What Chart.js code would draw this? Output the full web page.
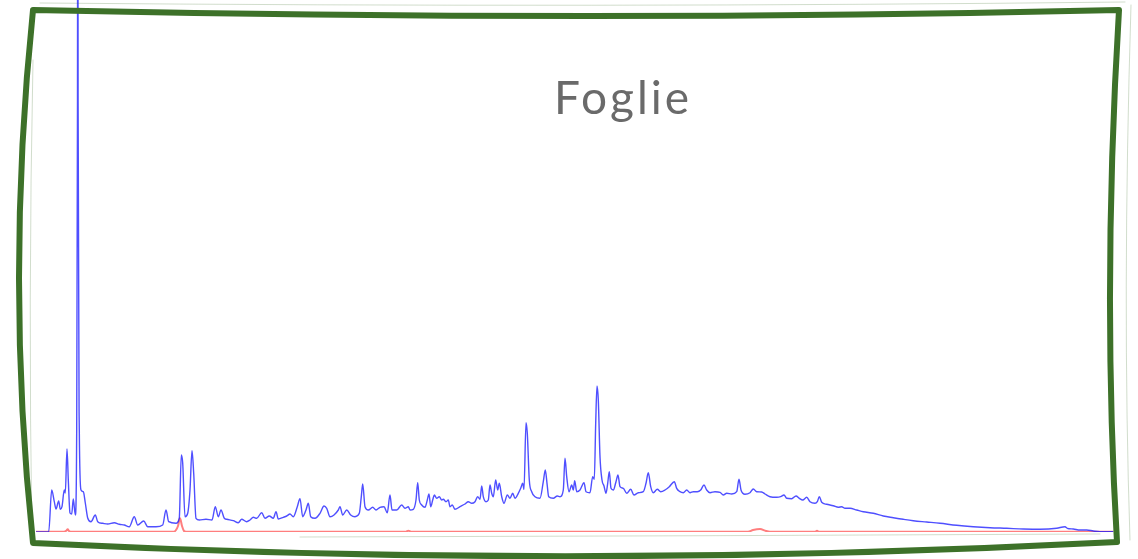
<!DOCTYPE html>
<html>
<head>
<meta charset="utf-8">
<script src="https://cdn.jsdelivr.net/npm/chart.js@4/dist/chart.umd.min.js"></script>
<style>
  html, body { margin: 0; padding: 0; background: #ffffff; }
  #wrap { position: relative; width: 1138px; height: 559px; }
  #titolo {
    position: absolute; left: 554px; top: 74px;
    font-family: Lato, "Open Sans", sans-serif; font-size: 46px; line-height: 46px;
    letter-spacing: 3px; color: #6a6a6a; white-space: nowrap;
  }
</style>
</head>
<body>
<div id="wrap">
  <canvas id="chart" width="1138" height="559"></canvas>
  <div id="titolo">Foglie</div>
</div>
<script>
// --- Data (retention position, arbitrary units / detector response) ---
const bluTempo = [
  0, 12.7, 15.7, 18.3, 20, 22.7, 24.3, 26, 28.3, 29.3, 31, 32.3, 34, 35.7, 37.3, 39.3,
  40.7, 41.5, 41.8, 42.1, 43.3, 45, 47.3, 49.3, 51.7, 55, 59.3, 61.7, 66.7, 71.7, 78.3,
  83.3, 88.3, 93.3, 98.3, 101.7, 107.7, 111.7, 120, 126.7, 130, 132.7, 140, 143.3, 145.3,
  146.7, 149, 151.7, 154, 156, 157.7, 160, 163.3, 170, 176, 179.3, 182.3, 185, 188.3,
  190.7, 197.3, 202.3, 205.7, 210.7, 214, 217.3, 220.7, 225.7, 229, 233.3, 237.3, 240,
  242.3, 247.3, 250.7, 254, 257.3, 261.3, 264, 266.7, 270, 272.3, 274.7, 279, 284, 288,
  290.7, 294, 298, 302.3, 304, 306.7, 310.7, 314.7, 319, 323.3, 325.3, 326.7, 329, 332.3,
  336.7, 340, 344, 348, 351.3, 354, 356, 360.7, 365.7, 369, 372.3,
  374, 377.3, 380, 381.7, 383.3, 385.7, 389, 391.3, 393, 394.7, 396.7, 398.3, 400.7,
  403.3, 405.7, 407.3, 410, 412.3, 414, 416.3, 419, 424, 429, 432.3, 435.7, 439, 441.7,
  444, 445.7, 447.3, 450, 452.3, 454, 455.7, 457.3, 459.7, 461.7, 463.3, 465.7, 468,
  471.3, 474, 476.7, 479, 482.3, 484.7, 486.7, 488, 490, 491.3, 493.3, 495.7, 499, 504,
  507.3, 509.3, 511, 512.7, 517.3, 521.3, 524, 527.3, 529, 530.7, 533, 535.7, 537.3,
  538.7, 540.7, 544, 548, 550, 554,
  556.7, 558.3, 559.7, 561, 562.3, 564, 566, 568, 570, 571.7, 573.3, 575, 577.3, 580,
  582, 584, 587.3, 590.7, 594.7, 598, 602.3, 607.3, 610, 612.3, 614.7, 617.3, 621.3,
  624.7, 629, 633.3, 638.3, 640.7, 644, 647.3, 650.7, 654, 657.3, 661.3, 664.7, 668,
  670.7, 674, 679, 684, 687.3, 690.7, 695.7, 700.7, 703, 705, 709, 714, 717.3, 720.7,
  725.7, 729,
  734, 740.7, 744.7, 748, 750.7, 755.7, 760, 763.3, 766.7, 770.7, 774, 779, 781.3, 783.3,
  785.7, 790.7, 797.3, 802.3, 805.7, 809, 814, 820.7, 827.3, 837.3, 847.3, 857.3, 867.3,
  877.3, 890.7, 904, 920.7, 937.3, 954, 970.7, 987.3, 1004, 1020.7, 1029, 1031.3, 1037.3,
  1044, 1050.7, 1057.3, 1064, 1077.3
];
const bluValori = [
  0, 0, 42, 30.3, 23, 31, 22.7, 25.3, 42, 39, 83, 52, 19, 18, 33, 17,
  102, 432, 832, 432, 102, 42, 40.3, 29, 14, 10.3, 17, 10.3, 8.7, 8, 9.3,
  7.7, 7, 5.3, 15.3, 7, 11, 5.3, 5.3, 7, 22, 10.3, 8.7, 14, 77,
  69, 15.3, 18.7, 42, 81.3, 58.7, 13.7, 12, 12.7, 12, 25.3, 15.3, 22, 13.7,
  12.7, 11.3, 9.3, 12.7, 10.3, 12, 14.7, 13.7, 19.3, 13.7, 16, 13.7, 20.3,
  13, 14.7, 16, 18, 15.3, 25.3, 33.3, 15.3, 22, 28.7, 15.3, 13.7, 18.7, 26,
  23.7, 15.3, 17, 22, 25.3, 17, 22, 17, 15.3, 18.7, 35.3, 48, 25.3, 22,
  24.7, 22, 24.7, 25.3, 19.3, 37, 22, 22, 27, 23.7, 25.3,
  22, 22.7, 32, 49.3, 32, 27, 24.7, 32, 38, 25.3, 32, 37, 33.7,
  35.3, 32, 32.7, 30.3, 32, 25.3, 27, 22.7, 25.3, 28, 30.3, 28.7, 30.3, 35.3,
  32.7, 46, 35.3, 30.3, 32, 47, 38.7, 35.3, 52, 42, 48.7, 35.3, 28.7,
  37, 33.7, 38.7, 33.7, 38.7, 43.7, 48.7, 42.7, 109.3, 98.7, 52, 40.3, 35.3, 33.7,
  50.3, 62, 48.7, 35.3, 33.7, 36, 35.3, 42, 73.7, 55.3, 40.3, 47, 42,
  51.3, 40.3, 42, 49.3, 40.3, 39.3,
  55.3, 52.7, 108.7, 146, 132, 75.3, 52, 46, 38.7, 48.7, 60.3, 43.7, 42, 50.3,
  57, 45.3, 43.7, 38.7, 42.7, 37, 39.3, 40.3, 48.7, 59.3, 45.3, 39.3, 42.7,
  40.3, 42, 45.3, 50.3, 43.7, 40.3, 39.3, 42, 39.3, 40.3, 40.3, 42, 47,
  42, 39.3, 40.3, 39.7, 37, 38.7, 38, 40.3, 52.7, 42, 37.7, 39.3, 43, 40.3,
  40, 38,
  35.3, 34.7, 35.3, 37, 33.7, 33.3, 36, 33.7, 32, 34.7, 30.3, 28.7, 30.3, 35.3,
  29.7, 27.7, 26.3, 24.7, 25.3, 23.7, 23.7, 22, 20.3, 18.7, 16, 14.3, 12.7,
  11.3, 10, 8.7, 6.7, 5.3, 4.3, 3.7, 3, 2.7, 3.7, 5.3, 3.7, 3,
  2, 2, 1, 0.3, 0.3
];

const rossoTempo = [0, 28, 30.5, 31.7, 33, 36, 138, 140, 142, 144, 146, 148, 150,
  370, 372.3, 375, 712, 717, 724, 730, 734, 779, 781, 783, 1077.3];
const rossoValori = [0.3, 0.3, 1.5, 2.7, 1, 0.3, 0.3, 2, 6, 13.7, 6, 1, 0.3,
  0.3, 1.3, 0.3, 0.3, 2, 3, 1, 0.3, 0.3, 1.3, 0.3, 0.3];

const toPoints = (xs, ys) => xs.map((x, i) => ({ x: x, y: ys[i] }));

// hand drawn frame around the plot
const cornice = {
  id: 'cornice',
  afterDraw(chart) {
    const c = chart.ctx;
    c.save();
    c.lineJoin = 'round';
    c.lineCap = 'round';
    // faint sketch strokes
    c.strokeStyle = 'rgba(70, 120, 50, 0.25)';
    c.lineWidth = 1;
    c.beginPath();
    c.moveTo(40, 3); c.quadraticCurveTo(600, 8, 1125, 2);
    c.moveTo(1131, 5); c.quadraticCurveTo(1122, 300, 1130, 540);
    c.moveTo(300, 537); c.quadraticCurveTo(700, 536, 1100, 534);
    c.moveTo(33, 60); c.quadraticCurveTo(28, 300, 32, 540);
    c.stroke();
    // main frame
    c.strokeStyle = '#3d7129';
    c.lineWidth = 6;
    c.beginPath();
    c.moveTo(33, 10);
    c.quadraticCurveTo(600, 22, 1119, 10);
    c.quadraticCurveTo(1102, 290, 1117, 542);
    c.quadraticCurveTo(575, 570, 33, 543);
    c.quadraticCurveTo(5, 280, 33, 10);
    c.closePath();
    c.stroke();
    c.restore();
  }
};

const ctx = document.getElementById('chart').getContext('2d');
const chart = new Chart(ctx, {
  type: 'line',
  data: {
    datasets: [
      {
        label: 'Campione',
        data: toPoints(bluTempo, bluValori),
        borderColor: 'rgba(20, 20, 255, 0.75)',
        borderWidth: 1.4,
        pointRadius: 0,
        cubicInterpolationMode: 'monotone',
        fill: false,
        order: 1
      },
      {
        label: 'Bianco',
        data: toPoints(rossoTempo, rossoValori),
        borderColor: 'rgba(255, 40, 40, 0.6)',
        borderWidth: 2,
        pointRadius: 0,
        cubicInterpolationMode: 'monotone',
        fill: false,
        order: 2
      }
    ]
  },
  options: {
    responsive: false,
    animation: false,
    layout: { padding: { left: 36, right: 24, top: 0, bottom: 27 } },
    scales: {
      x: { type: 'linear', min: 0, max: 1078, display: false },
      y: { min: 0, max: 532, display: false }
    },
    plugins: {
      legend: { display: false },
      tooltip: { enabled: false }
    }
  },
  plugins: [cornice]
});
</script>
</body>
</html>
